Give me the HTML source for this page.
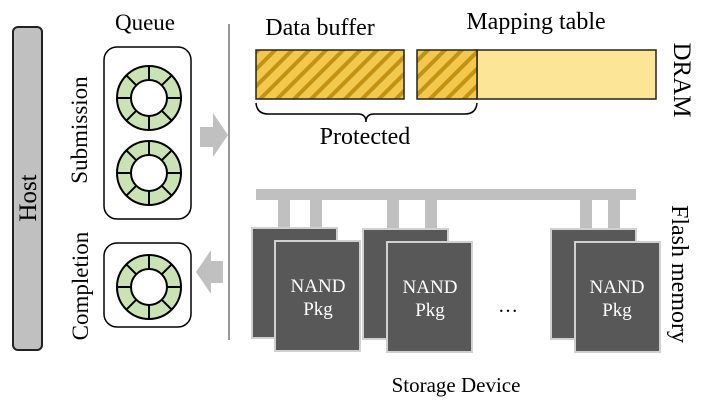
<!DOCTYPE html>
<html><head><meta charset="utf-8"><style>
html,body{margin:0;padding:0;background:#fff}
svg{display:block}
text{font-family:"Liberation Serif",serif;fill:#000}
</style></head><body>
<svg width="704" height="416" viewBox="0 0 704 416" xmlns="http://www.w3.org/2000/svg">
<defs>
<pattern id="h" patternUnits="userSpaceOnUse" width="12" height="12" patternTransform="rotate(45)">
<rect width="12" height="12" fill="#f2c94c"/>
<rect width="4" height="12" fill="#c29214"/>
</pattern>
<g id="ring">
<circle r="32" fill="#c9e3b5" stroke="#000" stroke-width="2"/>
<g stroke="#000" stroke-width="2">
<line x1="0" y1="-32" x2="0" y2="32"/>
<line x1="-32" y1="0" x2="32" y2="0"/>
<line x1="-22.6" y1="-22.6" x2="22.6" y2="22.6"/>
<line x1="-22.6" y1="22.6" x2="22.6" y2="-22.6"/>
</g>
<circle r="18" fill="#fff" stroke="#000" stroke-width="2"/>
</g>
<g id="pk">
<rect x="0" y="0" width="85" height="110" fill="#585858" stroke="#d0d0d0" stroke-width="2"/>
</g>
</defs>
<!-- Host -->
<rect x="13" y="27" width="29" height="323" rx="5" fill="#c0c0c0" stroke="#222" stroke-width="2"/>
<text transform="translate(36,198) rotate(-90)" text-anchor="middle" font-size="25">Host</text>
<text x="145" y="30" text-anchor="middle" font-size="23">Queue</text>
<text transform="translate(87,130) rotate(-90)" text-anchor="middle" font-size="23">Submission</text>
<text transform="translate(88,286) rotate(-90)" text-anchor="middle" font-size="23">Completion</text>
<rect x="104" y="47" width="87" height="172" rx="13" fill="none" stroke="#000" stroke-width="1.5"/>
<rect x="104" y="243" width="87" height="84" rx="13" fill="none" stroke="#000" stroke-width="1.5"/>
<use href="#ring" x="149" y="98"/>
<use href="#ring" x="149" y="173"/>
<use href="#ring" x="149" y="287"/>
<!-- arrows -->
<polygon points="200,127 213,127 213,113 228,135 213,157 213,147 200,147" fill="#c0c0c0"/>
<polygon points="223,261 211,261 211,250 196,272 211,294 211,283 223,283" fill="#c0c0c0"/>
<line x1="229" y1="24" x2="229" y2="340" stroke="#777" stroke-width="1.5"/>
<!-- DRAM -->
<text x="320" y="35" text-anchor="middle" font-size="24">Data buffer</text>
<text x="536" y="29" text-anchor="middle" font-size="24">Mapping table</text>
<rect x="256" y="50" width="148" height="49" fill="url(#h)" stroke="#222" stroke-width="1.5"/>
<rect x="477" y="50" width="179" height="49" fill="#fde597" stroke="#222" stroke-width="1.5"/>
<rect x="417" y="50" width="60" height="49" fill="url(#h)" stroke="#222" stroke-width="1.5"/>
<path d="M256,103 Q257,114 268,114 L358,114 Q366,114 366,122 Q366,114 374,114 L465,114 Q476,114 477,103" fill="none" stroke="#000" stroke-width="1.5"/>
<text x="365" y="144" text-anchor="middle" font-size="24">Protected</text>
<text transform="translate(674,80) rotate(90)" text-anchor="middle" font-size="25">DRAM</text>
<!-- Flash -->
<rect x="256" y="189" width="380" height="11" fill="#c0c0c0"/>
<g fill="#c0c0c0">
<rect x="278" y="200" width="12" height="30"/><rect x="310" y="200" width="12" height="42"/>
<rect x="387" y="200" width="12" height="30"/><rect x="425" y="200" width="12" height="42"/>
<rect x="580" y="200" width="12" height="30"/><rect x="608" y="200" width="12" height="42"/>
</g>
<use href="#pk" x="252" y="228"/><use href="#pk" x="275" y="241"/>
<use href="#pk" x="363" y="229"/><use href="#pk" x="387" y="242"/>
<use href="#pk" x="551" y="229"/><use href="#pk" x="575" y="242"/>
<g font-size="19" text-anchor="middle">
<text x="318" y="292" style="fill:#fff">NAND</text><text x="318" y="315" style="fill:#fff">Pkg</text>
<text x="430" y="293" style="fill:#fff">NAND</text><text x="430" y="316" style="fill:#fff">Pkg</text>
<text x="617" y="293" style="fill:#fff">NAND</text><text x="617" y="316" style="fill:#fff">Pkg</text>
</g>
<text x="508" y="312" text-anchor="middle" font-size="20">…</text>
<text transform="translate(672,274) rotate(90)" text-anchor="middle" font-size="24">Flash memory</text>
<text x="456" y="392" text-anchor="middle" font-size="21">Storage Device</text>
</svg>
</body></html>
